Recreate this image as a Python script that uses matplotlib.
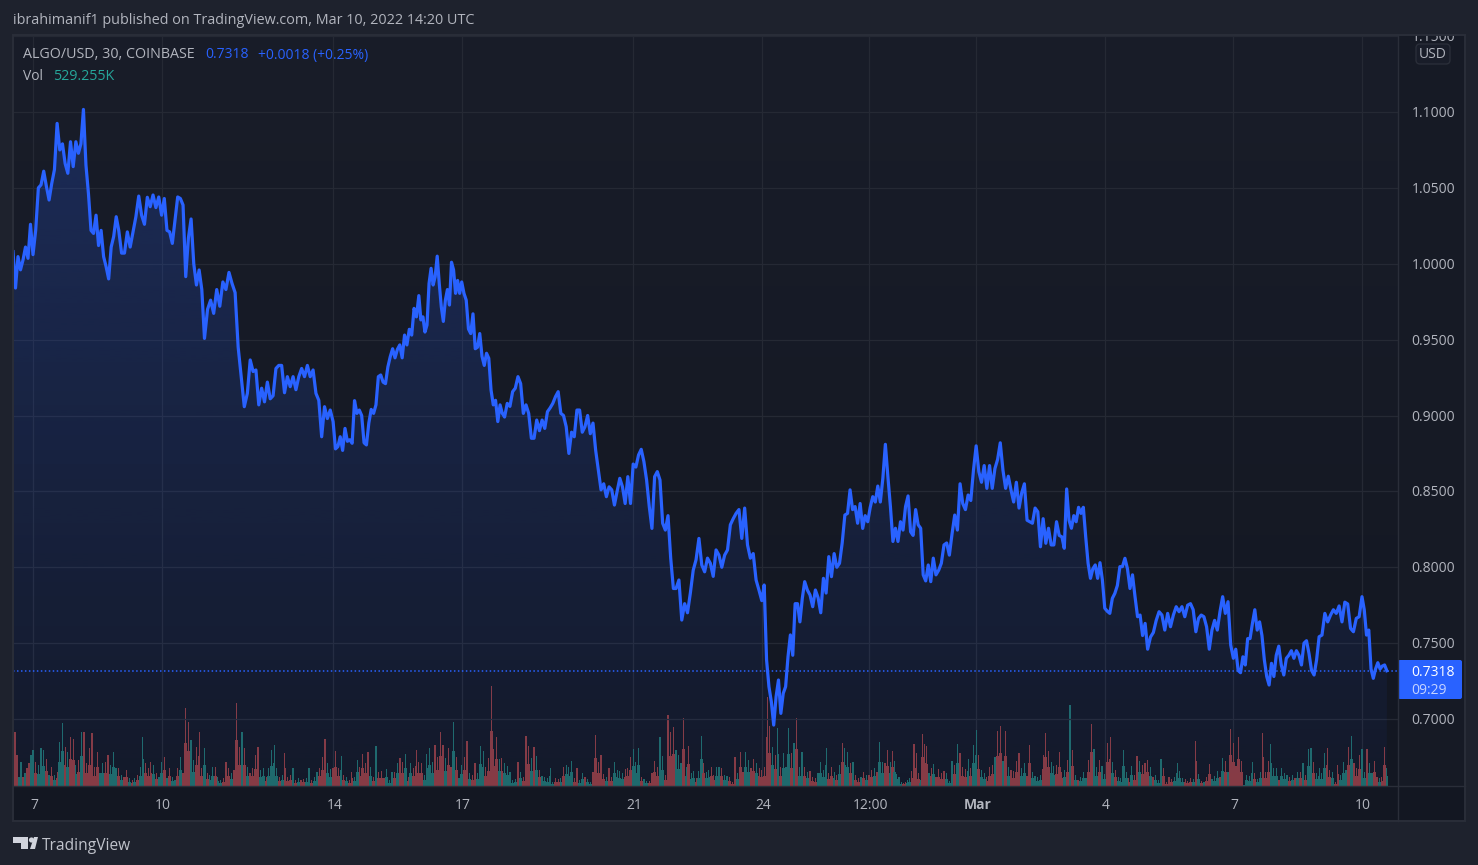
import numpy as np
import matplotlib
matplotlib.use('Agg')
import matplotlib.pyplot as plt
from matplotlib.colors import LinearSegmentedColormap
from matplotlib.patches import Polygon, Rectangle, FancyBboxPatch, Circle

plt.rcParams['font.family'] = ['Open Sans', 'DejaVu Sans']

# prices, one list per calendar day (first and last are partial)
p_feb06 = [1.008, 0.984, 1.0047, 0.996, 1.0025, 1.011, 1.0036, 1.026]
p_feb07 = [1.006, 1.022, 1.050, 1.052, 1.061, 1.051, 1.042, 1.053, 1.062, 1.0925, 1.075, 1.079, 1.066, 1.0596, 1.0804, 1.064]
p_feb08 = [1.0804, 1.0728, 1.079, 1.1017, 1.065, 1.046, 1.022, 1.020, 1.032, 1.012, 1.022, 1.0047, 0.998, 0.990, 1.011, 1.018, 1.031]
p_feb09 = [1.022, 1.007, 1.007, 1.021, 1.011, 1.021, 1.031, 1.0446, 1.032, 1.026, 1.0438, 1.0376, 1.0453, 1.037, 1.044]
p_feb10 = [1.032, 1.043, 1.022, 1.021, 1.0134, 1.029, 1.044, 1.043, 1.0387, 0.9915, 1.017, 1.0295, 1.0, 0.986, 0.9959, 0.983]
p_feb11 = [0.9508, 0.970, 0.976, 0.9673, 0.983, 0.972, 0.988, 0.983, 0.9943, 0.987, 0.981, 0.945, 0.9256, 0.9058]
p_feb12 = [0.9146, 0.9366, 0.929, 0.930, 0.907, 0.918, 0.909, 0.922, 0.911, 0.913, 0.931, 0.933, 0.933, 0.915, 0.9256]
p_feb13 = [0.919, 0.9256, 0.917, 0.9256, 0.931, 0.9256, 0.933, 0.9256, 0.930, 0.9146, 0.910, 0.886, 0.9058, 0.898, 0.9036]
p_feb14 = [0.896, 0.878, 0.8795, 0.886, 0.877, 0.8915, 0.883, 0.884, 0.8817, 0.9098, 0.9014, 0.9036, 0.900, 0.882, 0.8806, 0.895, 0.904, 0.9014]
p_feb15 = [0.907, 0.9256, 0.9267, 0.922, 0.921, 0.932, 0.9388, 0.944, 0.938, 0.9436, 0.9465, 0.938, 0.953, 0.9465, 0.9568, 0.953, 0.9706, 0.965]
p_feb16 = [0.979, 0.963, 0.965, 0.955, 0.9596, 0.987, 0.997, 0.986, 0.9915, 1.005, 0.987, 0.9717, 0.962, 0.976, 0.983, 0.9728, 1.001, 0.996, 0.9805, 0.989, 0.9805]
p_feb17 = [0.988, 0.9805, 0.976, 0.957, 0.954, 0.967, 0.944, 0.945, 0.954, 0.939, 0.933, 0.941, 0.9377, 0.9168, 0.907, 0.910, 0.896, 0.907, 0.9014]
p_feb18 = [0.899, 0.908, 0.906, 0.9157, 0.918, 0.9256, 0.921, 0.9014, 0.907, 0.9014, 0.885, 0.885, 0.897, 0.890, 0.897, 0.8915]
p_feb19 = [0.9025, 0.905, 0.908, 0.9124, 0.9157, 0.9014, 0.900, 0.8926, 0.875, 0.889, 0.886, 0.9036, 0.9036, 0.889, 0.8926, 0.900]
p_feb20 = [0.888, 0.895, 0.877, 0.864, 0.851, 0.855, 0.8465, 0.853, 0.851, 0.841, 0.850, 0.8586, 0.853, 0.842, 0.8597, 0.842]
p_feb21 = [0.868, 0.866, 0.874, 0.8777, 0.8696, 0.8575, 0.840, 0.8256, 0.8597, 0.863, 0.8575, 0.829, 0.8245, 0.834, 0.806, 0.786]
p_feb22 = [0.786, 0.7916, 0.7652, 0.776, 0.770, 0.783, 0.798, 0.805, 0.819, 0.8015, 0.797, 0.806, 0.8026, 0.794, 0.8114]
p_feb23 = [0.808, 0.800, 0.808, 0.8114, 0.828, 0.832, 0.8355, 0.838, 0.819, 0.839, 0.8147, 0.806, 0.809, 0.7916, 0.785]
p_feb24 = [0.778, 0.7883, 0.739, 0.7213, 0.7114, 0.696, 0.7147, 0.7257, 0.7037, 0.7169, 0.7213, 0.741, 0.7554, 0.742, 0.776, 0.776, 0.764, 0.7795]
p_feb25 = [0.7905, 0.785, 0.7817, 0.774, 0.785, 0.780, 0.770, 0.7927, 0.783, 0.807, 0.7938, 0.809, 0.800, 0.8026, 0.816, 0.8344]
p_feb26 = [0.8355, 0.851, 0.838, 0.840, 0.829, 0.842, 0.8256, 0.834, 0.830, 0.8395, 0.8465, 0.843, 0.8535, 0.843, 0.8586, 0.881, 0.8597]
p_feb27 = [0.840, 0.817, 0.8257, 0.817, 0.830, 0.8245, 0.840, 0.847, 0.8234, 0.821, 0.838, 0.828, 0.8257, 0.795, 0.791, 0.8015, 0.7905]
p_feb28 = [0.806, 0.795, 0.798, 0.8026, 0.8147, 0.816, 0.808, 0.822, 0.8344, 0.8245, 0.855, 0.842, 0.838, 0.8476, 0.844, 0.864]
p_mar01 = [0.880, 0.863, 0.856, 0.867, 0.852, 0.867, 0.852, 0.865, 0.871, 0.882, 0.864, 0.852, 0.860, 0.851, 0.843, 0.856]
p_mar02 = [0.839, 0.849, 0.855, 0.831, 0.830, 0.829, 0.839, 0.8366, 0.8135, 0.832, 0.8158, 0.8257, 0.8147, 0.8147, 0.830, 0.821]
p_mar03 = [0.820, 0.8125, 0.8516, 0.831, 0.8257, 0.834, 0.830, 0.8395, 0.8355, 0.8395, 0.820, 0.8026, 0.7927, 0.799, 0.8015, 0.7927, 0.803, 0.7916]
p_mar04 = [0.773, 0.771, 0.7696, 0.7795, 0.7828, 0.788, 0.8004, 0.8004, 0.8059, 0.799, 0.786, 0.795, 0.7806, 0.7674, 0.7685, 0.755, 0.763]
p_mar05 = [0.746, 0.754, 0.757, 0.765, 0.7707, 0.7685, 0.7586, 0.7696, 0.7608, 0.7685, 0.774, 0.7707, 0.774, 0.7674, 0.775]
p_mar06 = [0.776, 0.772, 0.7575, 0.7663, 0.7685, 0.7674, 0.7608, 0.746, 0.7586, 0.765, 0.7586, 0.7707, 0.7806, 0.7696, 0.7773, 0.7488]
p_mar07 = [0.740, 0.746, 0.732, 0.7305, 0.741, 0.7356, 0.753, 0.753, 0.763, 0.772, 0.7586, 0.764, 0.755, 0.739, 0.728, 0.7224, 0.7367, 0.728]
p_mar08 = [0.742, 0.748, 0.7356, 0.729, 0.740, 0.742, 0.745, 0.740, 0.745, 0.742, 0.7356, 0.750, 0.7516, 0.743, 0.732, 0.729, 0.739]
p_mar09 = [0.7542, 0.7553, 0.7696, 0.764, 0.7685, 0.772, 0.7696, 0.7745, 0.764, 0.777, 0.7758, 0.7597, 0.7575, 0.7663, 0.7674]
p_mar10 = [0.7806, 0.772, 0.7553, 0.7586, 0.733, 0.7268, 0.733, 0.7371, 0.733, 0.7349, 0.7356, 0.7318]

# volume per bar in lots of 30K, sign gives the bar direction (+ up, - down)
v_feb06 = [16, -54, -31, 9, 24, -9, 13, -18, -23, 31]
v_feb07 = [36, -24, 21, 38, 36, -27, 11, -19, 11, -14, 44, 63, -39, 34, -49, -47]
v_feb08 = [21, -26, 54, -54, -23, -38, -53, -19, -34, 13, 23, -24, -31, 21, 34, 18]
v_feb09 = [-18, 11, -9, -16, 8, -6, 8, -11, 19, 49, -23, -18, -24, 21, -13, 9]
v_feb10 = [24, -29, 8, -18, 9, 6, -18, 29, -13, -78, -64, 46, 26, -39, -54, -18]
v_feb11 = [38, -13, 11, 19, -19, 9, 6, -8, -24, -18, 13, -16, -83, -39, 54, -38]
v_feb12 = [19, -13, -18, -31, -39, 16, 18, -9, 18, 36, 41, 18, -9, 11, -33, -9]
v_feb13 = [-11, 18, -6, 8, -6, -7, 8, 18, -6, 9, 14, -18, -29, -47, 23, 17]
v_feb14 = [-18, -35, -18, 30, -11, 9, -6, -14, 9, 26, -19, -32, -23, -34, 19, -9]
v_feb15 = [40, -14, -15, -8, 17, 6, 14, -14, 23, -28, -24, 32, -9, 23, -18, -36]
v_feb16 = [-24, -23, 11, 32, 38, 24, -41, -29, -54, -41, 28, -38, -19, 64, -29, 8]
v_feb17 = [21, -29, -45, 13, -11, -23, 13, 40, 35, -19, -28, -100, -37, -49, 27, -28]
v_feb18 = [23, 20, 14, 6, 7, -24, 14, -9, -50, -40, 28, -39, 30, -16, 10, 9]
v_feb19 = [8, 18, 4, -8, -7, 8, -19, 21, 19, 25, -8, -18, 6, 13, -9, 7]
v_feb20 = [4, -14, -51, -24, -31, -12, 9, -18, -9, 24, 16, 15, 13, -17, -18, -29]
v_feb21 = [37, 24, 38, -9, 7, 5, -5, -13, -25, -19, 49, 30, -11, -71, -54, -59]
v_feb22 = [36, 31, 23, -68, 19, -40, 13, 15, -8, 15, 50, -23, 14, 16, -19, -11, 19]
v_feb23 = [19, -18, 11, 10, -9, -4, -29, 13, -34, -14, 34, 26, -18, -27, 23, -18]
v_feb24 = [-16, -19, -89, -60, 39, -31, 58, -19, 33, 19, 58, -33, 43, -68, 19, 34]
v_feb25 = [-19, 14, -15, -9, -8, 13, 24, 16, 38, -13, -19, 14, -11, 21, -43, 38]
v_feb26 = [34, -23, 24, -11, -8, 9, -14, 11, -11, -16, 18, -14, 44, 24, -23, -36]
v_feb27 = [24, -35, 25, 12, 9, 4, -3, -4, 6, 8, -15, -42, -33, -13, 6, -52, -42, -40, 13, -18]
v_feb28 = [22, -9, -17, -13, -15, 13, 5, 25, -21, 42, -33, -19, -17, 27, -18, 41]
v_mar01 = [56, -31, 16, 13, -9, -19, -21, 29, -55, -60, 25, -55, 19, -16, -15, -25]
v_mar02 = [-33, 18, 23, -10, -41, 14, 10, 9, 11, -31, -53, -35, 24, 20, -21, -34]
v_mar03 = [-14, 16, -26, 81, -36, 11, -6, 9, 14, 8, -26, -62, 37, 19, -26, 20]
v_mar04 = [12, -43, -49, 24, -16, 9, 8, 36, 14, -8, 20, -11, -30, 25, -21, -23]
v_mar05 = [-26, 19, -9, 11, 6, 27, -18, -4, -9, -7, 9, 23, 15, 8, -7, -5]
v_mar06 = [-8, 7, -45, 12, -5, 4, -9, -22, 7, 10, 15, -9, 28, -25, 14, -57]
v_mar07 = [-43, -20, -49, -25, 1, 11, 10, 24, -13, 7, 14, -53, -14, -25, 42, 18]
v_mar08 = [18, -6, 18, 13, 11, -9, 11, -8, 14, -14, 23, -11, 37, 38, -24, 13]
v_mar09 = [18, 13, 33, -38, -16, 14, -4, -21, 11, 24, 16, -39, 50, -23, -18, -31]
v_mar10 = [37, 14, -37, 23, 13, -25, -9, 8, -9, -39, 17.6]

price_days = [p_feb06, p_feb07, p_feb08, p_feb09, p_feb10, p_feb11, p_feb12, p_feb13, p_feb14, p_feb15,
              p_feb16, p_feb17, p_feb18, p_feb19, p_feb20, p_feb21, p_feb22, p_feb23, p_feb24, p_feb25,
              p_feb26, p_feb27, p_feb28, p_mar01, p_mar02, p_mar03, p_mar04, p_mar05, p_mar06, p_mar07,
              p_mar08, p_mar09, p_mar10]
vol_days = [v_feb06, v_feb07, v_feb08, v_feb09, v_feb10, v_feb11, v_feb12, v_feb13, v_feb14, v_feb15,
            v_feb16, v_feb17, v_feb18, v_feb19, v_feb20, v_feb21, v_feb22, v_feb23, v_feb24, v_feb25,
            v_feb26, v_feb27, v_feb28, v_mar01, v_mar02, v_mar03, v_mar04, v_mar05, v_mar06, v_mar07,
            v_mar08, v_mar09, v_mar10]

# axis ticks, x is days since Feb 7
x_ticks = [0, 3, 7, 10, 14, 17, 19.5, 22, 25, 28, 31]
x_labels = ['7', '10', '14', '17', '21', '24', '12:00', 'Mar', '4', '7', '10']
y_ticks = [0.70, 0.75, 0.80, 0.85, 0.90, 0.95, 1.00, 1.05, 1.10, 1.15]
last_price = 0.7318

# colours
PAGE = '#1e222d'
GRID = '#252934'
BORDER = '#2a2e39'
TEXT = '#b2b5be'
BLUE = '#2962ff'
UP = '#1f6b68'
DOWN = '#8a3a3e'

W, H = 1478, 865
X0, X1, Y0, Y1 = 13, 1398, 35, 786   # chart pane in pixels
xlim = (-0.4665, 31.84)
ylim = (0.65585, 1.15074)


def spread(i, n):
    # positions of n samples inside day i of the lists above
    if i == 0:
        return np.linspace(xlim[0], 0, n, endpoint=False)
    if i == len(price_days) - 1:
        return np.linspace(i - 1, i - 1 + 0.58, n)
    return np.linspace(i - 1, i, n, endpoint=False)


px = np.concatenate([spread(i, len(d)) for i, d in enumerate(price_days)])
py = np.concatenate(price_days)
vx = np.concatenate([spread(i, len(d)) for i, d in enumerate(vol_days)])
vy = np.concatenate(vol_days) * 30.0
bar_colors = [UP if v > 0 else DOWN for v in vy]
bar_step = 1 / 16

fig = plt.figure(figsize=(W / 100, H / 100), dpi=100, facecolor=PAGE)
rect = [X0 / W, 1 - Y1 / H, (X1 - X0) / W, (Y1 - Y0) / H]

# volume + background pane sits below the price pane
ax_v = fig.add_axes(rect)
bg = LinearSegmentedColormap.from_list('bg', ['#131722', '#191d29'])
ax_v.imshow(np.linspace(0, 1, 256)[:, None][::-1], extent=[0, 1, 0, 1], transform=ax_v.transAxes,
            aspect='auto', cmap=bg, zorder=0)
for t in x_ticks:
    ax_v.axvline(t, color=GRID, lw=0.9, zorder=1)
ax_v.set_xlim(xlim)
ax_v.set_ylim(0, (Y1 - Y0) * 30.0)
# the original has ~1px bars, so thin spikes over a solid lower part
ax_v.bar(vx, np.abs(vy), width=bar_step * 0.45, color=bar_colors, lw=0, zorder=3)
ax_v.bar(vx, np.abs(vy) * 0.55, width=bar_step, color=bar_colors, lw=0, zorder=3)
ax_v.set_xticks([])
ax_v.set_yticks([])
for s in ax_v.spines.values():
    s.set_visible(False)

ax = fig.add_axes(rect)
ax.patch.set_visible(False)
ax.set_xlim(xlim)
ax.set_ylim(ylim)
for t in y_ticks:
    ax.axhline(t, color=GRID, lw=0.9, zorder=1)

# area under the line, fading downwards
grad = np.zeros((256, 1, 4))
grad[..., 0], grad[..., 1], grad[..., 2] = 41 / 255, 98 / 255, 1.0
grad[:, 0, 3] = np.linspace(0.22, 0.04, 256)
im = ax.imshow(grad, extent=[xlim[0], xlim[1], ylim[0], py.max()], aspect='auto', zorder=2)
clip = Polygon(np.vstack([[px[0], ylim[0]], np.column_stack([px, py]), [px[-1], ylim[0]]]),
               closed=True, transform=ax.transData)
im.set_clip_path(clip)
ax.set_xlim(xlim)
ax.set_ylim(ylim)

ax.plot(px, py, color=BLUE, lw=2.3, solid_joinstyle='round', zorder=4)
ax.axhline(last_price, color=BLUE, lw=1.1, ls=(0, (1, 1.6)), zorder=3)
ax.set_xticks([])
ax.set_yticks([])
for s in ax.spines.values():
    s.set_visible(False)

# price scale on the right, clipped at the top like the original
ax_r = fig.add_axes([X1 / W, 1 - Y1 / H, (1465 - X1) / W, (Y1 - Y0) / H])
ax_r.set_facecolor('#161a25')
ax_r.set_xlim(X1, 1465)
ax_r.set_ylim(ylim)
for t in y_ticks:
    ax_r.annotate('%.4f' % t, (1455, t), xytext=(0, -1.1), textcoords='offset points', color=TEXT,
                  fontsize=10, ha='right', va='center', annotation_clip=False, clip_on=True)
ax_r.set_xticks([])
ax_r.set_yticks([])
for s in ax_r.spines.values():
    s.set_visible(False)

# time scale
ax_t = fig.add_axes([X0 / W, 1 - 821 / H, (X1 - X0) / W, 35 / H])
ax_t.set_facecolor('#131722')
ax_t.set_xlim(xlim)
ax_t.set_ylim(0, 1)
for t, lab in zip(x_ticks, x_labels):
    ax_t.text(t + 0.03, 0.45, lab, color=TEXT, fontsize=10, ha='center', va='center',
              fontweight='bold' if lab == 'Mar' else 'normal')
ax_t.set_xticks([])
ax_t.set_yticks([])
for s in ax_t.spines.values():
    s.set_visible(False)

# page layer in pixels: frame, header, badge, logo
page = fig.add_axes([0, 0, 1, 1])
page.patch.set_visible(False)
page.set_xlim(0, W)
page.set_ylim(H, 0)
page.axis('off')
page.add_patch(Rectangle((1398, 786), 67, 35, fc='#131722', ec='none'))
page.add_patch(Rectangle((13, 35), 1452, 786, fc='none', ec=BORDER, lw=1.4))
page.plot([1398, 1398], [35, 821], color=BORDER, lw=1.0)
page.plot([13, 1465], [786, 786], color=BORDER, lw=1.0)

page.text(13, 21, 'ibrahimanif1 published on TradingView.com, Mar 10, 2022 14:20 UTC', color=TEXT,
          fontsize=10.38, va='center')
page.text(23, 55, 'ALGO/USD, 30, COINBASE', color=TEXT, fontsize=10.3, va='center')
page.text(205, 55, '0.7318', color=BLUE, fontsize=10, va='center')
page.text(258, 55, '+0.0018 (+0.25%)', color=BLUE, fontsize=10, va='center')
page.text(23, 76, 'Vol', color=TEXT, fontsize=10, va='center')
page.text(53, 76, '529.255K', color='#26a69a', fontsize=10.3, va='center')

page.add_patch(FancyBboxPatch((1416, 44), 34, 20, boxstyle='round,pad=0,rounding_size=4',
                              fc='#191d29', ec=BORDER, lw=1.0, mutation_aspect=1))
page.text(1433, 55, 'USD', color=TEXT, fontsize=10, ha='center', va='center')

page.add_patch(FancyBboxPatch((1398, 660), 64, 39, boxstyle='round,pad=0,rounding_size=2',
                              fc=BLUE, ec='none'))
page.text(1433, 672, '%.4f' % last_price, color='white', fontsize=10, ha='center', va='center')
page.text(1429, 690, '09:29', color='#c4d3ff', fontsize=10, ha='center', va='center')

page.add_patch(Polygon([[13, 837], [28, 837], [28, 849], [21, 849], [21, 843], [13, 843]], fc='#d1d4dc', ec='none'))
page.add_patch(Circle((31.5, 840), 2.6, fc='#d1d4dc', ec='none'))
page.add_patch(Polygon([[30, 849], [34, 837], [38, 837], [35, 849]], fc='#d1d4dc', ec='none'))
page.text(42, 846, 'TradingView', color='#c0c3cb', fontsize=11.2, va='center')

fig.savefig('out.png', dpi=100, facecolor=PAGE)
